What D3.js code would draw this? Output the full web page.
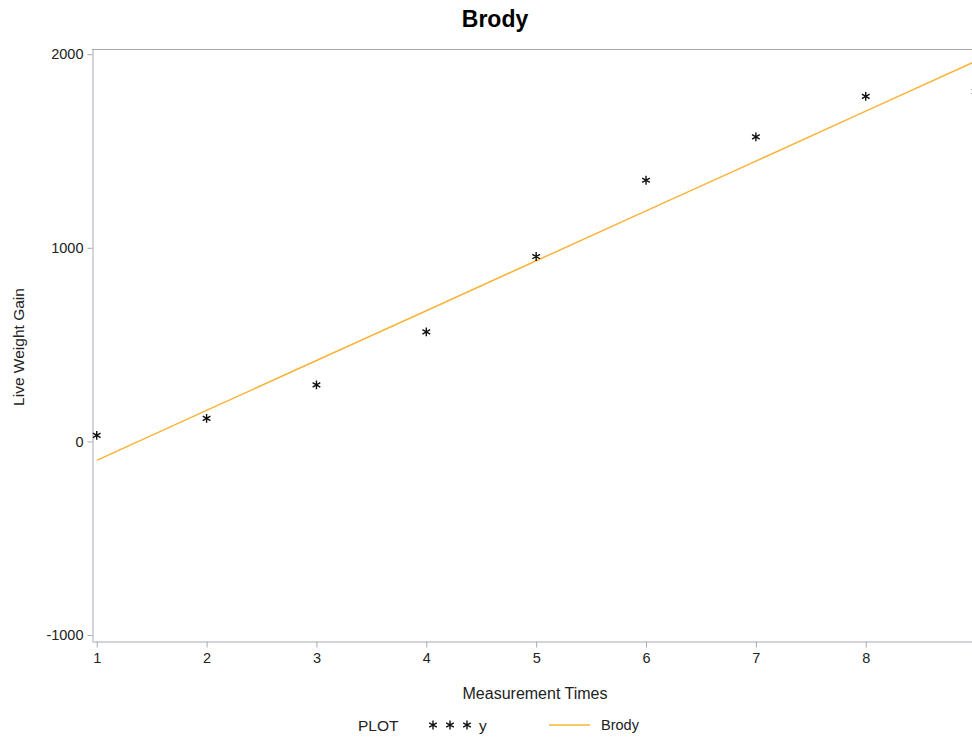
<!DOCTYPE html>
<meta charset="UTF-8">
<script src="https://d3js.org/d3.v7.min.js"></script>
<style>
body { margin: 0; background: #fff; }
text { font-family: "Liberation Sans", Arial, sans-serif; }
</style>
<div id="chart"></div>
<script>

// measurement times and observed live weight gain
var times = [1, 2, 3, 4, 5, 6, 7, 8, 9]
var observed = [31, 119, 292, 566, 955, 1349, 1573, 1782, 1808]
// fitted Brody curve at each time
var fitted = [-98, 160, 418, 675, 933, 1191, 1448, 1706, 1964]
// tick 9 falls outside the visible window, so only 1..8 are labelled
var xTicks = [1, 2, 3, 4, 5, 6, 7, 8]
var yTicks = [-1000, 0, 1000, 2000]

var width = 972
var height = 737
var margin = {top: 49, right: -8, bottom: 96, left: 92}

var svg = d3.select("#chart")
    .append("svg")
        .attr("width", width)
        .attr("height", height)

var x = d3.scaleLinear()
    .domain([0.957, 9.04])
    .range([margin.left, width - margin.right])

var y = d3.scaleLinear()
    .domain([-1031, 2027])
    .range([height - margin.bottom, margin.top])

var axisColor = "#a6abb0"

// title
svg.append("text")
    .attr("x", 495)
    .attr("y", 27)
    .attr("text-anchor", "middle")
    .style("font-size", "23px")
    .style("font-weight", "bold")
    .text("Brody")

// frame: top line, left axis, bottom axis
svg.append("line")
    .attr("x1", margin.left).attr("x2", width)
    .attr("y1", margin.top + 0.5).attr("y2", margin.top + 0.5)
    .attr("stroke", axisColor)

var yAxis = svg.append("g")
    .attr("transform", "translate(" + (margin.left + 0.5) + ",0)")
    .call(d3.axisLeft(y).tickValues(yTicks).tickSize(5).tickSizeOuter(0)
        .tickFormat(function(d){ return String(d) }))
yAxis.select(".domain").attr("stroke", axisColor)
yAxis.selectAll(".tick line").attr("stroke", axisColor)
yAxis.selectAll(".tick text").attr("fill", "#222").style("font-size", "14.5px").attr("x", -9)

var xAxis = svg.append("g")
    .attr("transform", "translate(0," + (height - margin.bottom + 0.5) + ")")
    .call(d3.axisBottom(x).tickValues(xTicks).tickSize(6).tickSizeOuter(0))
xAxis.select(".domain").attr("stroke", axisColor)
xAxis.selectAll(".tick line").attr("stroke", axisColor)
xAxis.selectAll(".tick text").attr("fill", "#222").style("font-size", "14.5px").attr("y", 11)

// axis labels
svg.append("text")
    .attr("x", 535)
    .attr("y", 699)
    .attr("text-anchor", "middle")
    .style("font-size", "16px")
    .attr("fill", "#222")
    .text("Measurement Times")

svg.append("text")
    .attr("transform", "translate(24,347) rotate(-90)")
    .attr("text-anchor", "middle")
    .style("font-size", "15.5px")
    .attr("fill", "#222")
    .text("Live Weight Gain")

// fitted line
var line = d3.line()
    .x(function(d, i){ return x(times[i]) })
    .y(function(d){ return y(d) })

svg.append("path")
    .datum(fitted)
    .attr("fill", "none")
    .attr("stroke", "#f9b437")
    .attr("stroke-width", 1.5)
    .attr("d", line)

// observed points as asterisks
var star = d3.symbol().type(d3.symbolAsterisk).size(55)

svg.append("g")
    .selectAll("path")
    .data(observed)
    .enter()
    .append("path")
        .attr("d", star)
        .attr("transform", function(d, i){ return "translate(" + x(times[i]) + "," + y(d) + ")" })
        .attr("fill", "none")
        .attr("stroke", "#111")
        .attr("stroke-width", 1.4)

// legend
var legend = svg.append("g")
legend.append("text")
    .attr("x", 358).attr("y", 731)
    .style("font-size", "15.5px")
    .attr("fill", "#222")
    .text("PLOT")

legend.selectAll("path.key")
    .data([433, 450, 467])
    .enter()
    .append("path")
        .attr("class", "key")
        .attr("d", star)
        .attr("transform", function(d){ return "translate(" + d + ",725)" })
        .attr("fill", "none")
        .attr("stroke", "#111")
        .attr("stroke-width", 1.4)

legend.append("text")
    .attr("x", 479).attr("y", 731)
    .style("font-size", "15.5px")
    .attr("fill", "#222")
    .text("y")

legend.append("line")
    .attr("x1", 549).attr("x2", 590)
    .attr("y1", 725).attr("y2", 725)
    .attr("stroke", "#f9b437")
    .attr("stroke-width", 1.5)

legend.append("text")
    .attr("x", 601).attr("y", 730)
    .style("font-size", "14.5px")
    .attr("fill", "#222")
    .text("Brody")

</script>
